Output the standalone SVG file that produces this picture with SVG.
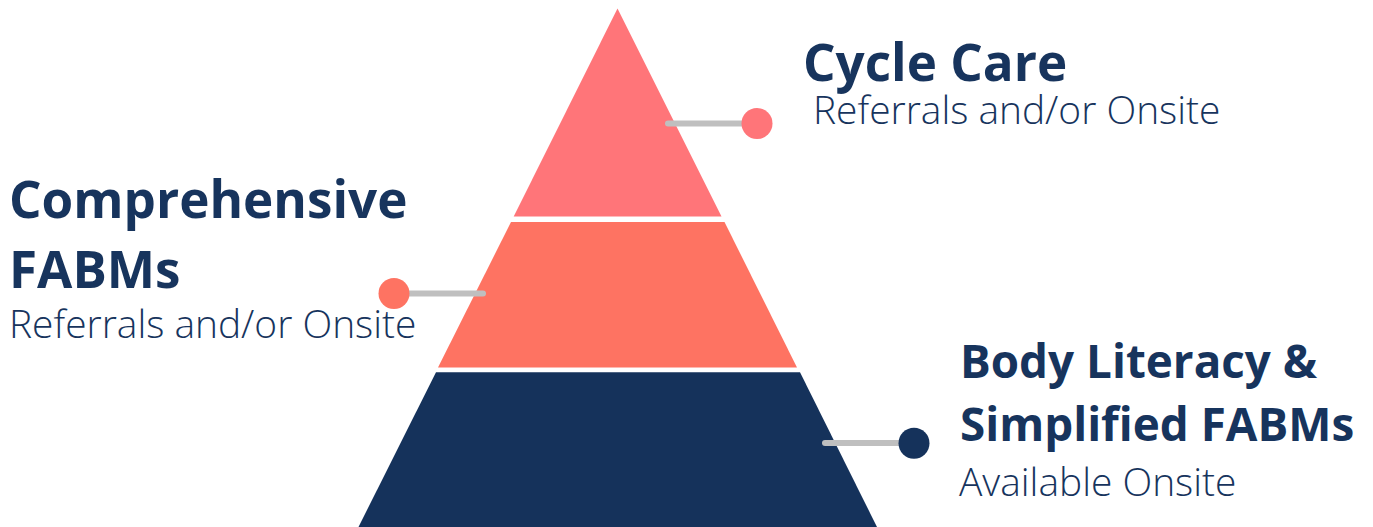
<svg xmlns="http://www.w3.org/2000/svg" width="1373" height="527" viewBox="0 0 1373 527">
<style>
.t{font-family:"Open Sans","Noto Sans",sans-serif;font-weight:700;font-size:51.2px;fill:#17345d}
.b{font-size:45.8px}
.s{font-family:"Open Sans","Noto Sans",sans-serif;font-weight:300;font-size:38.9px;fill:#17345d}
.c{stroke:#bfbfbf;stroke-width:6;stroke-linecap:round;fill:none}
</style>
<rect width="1373" height="527" fill="#fff"/>
<g id="tier-top"><polygon points="617.500,8.500 721.500,216.500 513.700,216.500" fill="#ff7579"/></g>
<g id="tier-middle"><polygon points="511,222 724.500,222 797,367.500 438,367.500" fill="#fe7362"/></g>
<g id="tier-bottom"><polygon points="436,372.300 800,372.300 877,527 358.500,527" fill="#15325b"/></g>
<g id="connectors">
<line class="c" x1="668" y1="123.500" x2="757" y2="123.500"/>
<line class="c" x1="394" y1="293.500" x2="483" y2="293.500"/>
<line class="c" x1="825" y1="443" x2="914" y2="443"/>
</g>
<g id="dot-top"><circle cx="757" cy="123.500" r="15.500" fill="#ff7579"/></g>
<g id="dot-middle"><circle cx="394" cy="293.500" r="15.500" fill="#fe7362"/></g>
<g id="dot-bottom"><circle cx="914" cy="443.300" r="15.500" fill="#15325b"/></g>
<g id="label-cycle"><text class="t" x="803" y="81">Cycle Care</text><text class="s" x="813" y="124">Referrals and/or Onsite</text></g>
<g id="label-comprehensive"><text class="t" x="9" y="218">Comprehensive</text><text class="t" x="9" y="288">FABMs</text><text class="s" x="9" y="338">Referrals and/or Onsite</text></g>
<g id="label-body"><text class="t b" x="960" y="377.500">Body Literacy &amp;</text><text class="t b" x="960" y="441">Simplified FABMs</text><text class="s" x="959" y="496">Available Onsite</text></g>
</svg>
